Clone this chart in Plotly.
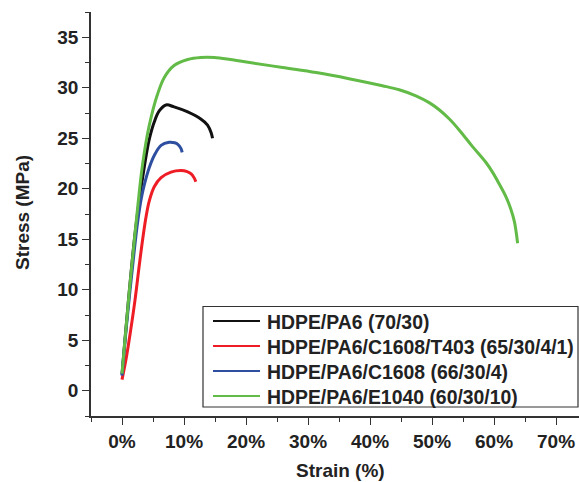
import plotly.graph_objects as go

# Tensile stress-strain curves of HDPE/PA6 blends
strain_70_30 = [0, 0.5, 1.2, 2.0, 2.7, 3.3, 3.9, 4.4, 5.2, 6.0, 7.1, 8.4, 10.6, 12.7, 13.8, 14.4, 14.6]
stress_70_30 = [1.6, 5.2, 10.0, 15.0, 18.5, 21.0, 23.3, 24.9, 26.6, 27.7, 28.3, 28.1, 27.6, 26.9, 26.3, 25.5, 25.0]

strain_c1608_t403 = [0, 0.7, 1.4, 2.1, 2.8, 3.4, 3.9, 4.4, 5.2, 6.3, 7.9, 9.5, 10.5, 11.2, 11.7, 11.9]
stress_c1608_t403 = [1.1, 3.3, 6.0, 9.0, 12.5, 15.3, 17.3, 18.8, 20.2, 21.1, 21.65, 21.8, 21.7, 21.45, 21.0, 20.7]

strain_c1608 = [0, 0.5, 1.3, 2.0, 2.5, 3.1, 3.6, 4.4, 5.2, 6.3, 7.6, 8.5, 9.0, 9.5, 9.7]
stress_c1608 = [1.5, 5.0, 10.0, 14.0, 16.6, 19.0, 20.4, 22.1, 23.3, 24.3, 24.6, 24.55, 24.4, 24.0, 23.6]

strain_e1040 = [0, 0.5, 1.2, 2.0, 2.6, 3.1, 3.6, 4.1, 4.7, 5.7, 6.8, 8.4, 10.6, 12.7, 14.9, 17.5, 20.6,
                25.9, 31.3, 36.6, 42.0, 44.7, 47.4, 49.6, 51.2, 52.8, 54.4, 56.5, 58.7, 59.8, 60.9, 62.0,
                62.7, 63.3, 63.8]
stress_e1040 = [1.7, 5.2, 10.0, 15.0, 18.6, 21.4, 23.6, 25.4, 27.1, 29.3, 31.0, 32.2, 32.8, 33.0, 33.0, 32.8, 32.5,
                32.0, 31.5, 30.9, 30.2, 29.8, 29.2, 28.5, 27.8, 26.9, 25.8, 24.2, 22.6, 21.6, 20.4, 19.1,
                18.0, 16.7, 14.6]

series_names = [
    "HDPE/PA6 (70/30)",
    "HDPE/PA6/C1608/T403 (65/30/4/1)",
    "HDPE/PA6/C1608 (66/30/4)",
    "HDPE/PA6/E1040 (60/30/10)",
]
series_x = [strain_70_30, strain_c1608_t403, strain_c1608, strain_e1040]
series_y = [stress_70_30, stress_c1608_t403, stress_c1608, stress_e1040]
series_colors = ["#111111", "#ee1c24", "#2e4fa0", "#62bb46"]

x_tick_values = [0, 10, 20, 30, 40, 50, 60, 70]
x_tick_labels = [f"{v}%" for v in x_tick_values]

W, H = 579, 482
ML, MR, MT, MB = 91, 0, 12, 66
PW, PH = W - ML - MR, H - MT - MB

FONT = dict(family="Liberation Sans, Arial, sans-serif", size=19, color="#222222", weight="bold")
LEGEND_FONT = dict(FONT, size=19.4)
AXIS_COLOR = "#333333"


def px_x(px):
    return (px - ML) / PW


def px_y(py):
    return (H - MB - py) / PH


fig = go.Figure()
for name, xs, ys, c in zip(series_names, series_x, series_y, series_colors):
    fig.add_trace(go.Scatter(
        x=xs, y=ys, name=name, mode="lines",
        line=dict(color=c, width=3, shape="spline", smoothing=1.0),
        showlegend=False,
    ))

# Boxed legend with long line samples
box_l, box_r, box_t, box_b = 203, 578, 306.5, 407
shapes = [dict(type="rect", xref="paper", yref="paper",
               x0=px_x(box_l), x1=px_x(box_r), y0=px_y(box_b), y1=px_y(box_t),
               line=dict(color=AXIS_COLOR, width=1.2), fillcolor="white", layer="above")]
annotations = []
row_y = [321, 346, 371, 396]
for name, c, ry in zip(series_names, series_colors, row_y):
    shapes.append(dict(type="line", xref="paper", yref="paper",
                       x0=px_x(213), x1=px_x(260), y0=px_y(ry), y1=px_y(ry),
                       line=dict(color=c, width=2.2), layer="above"))
    annotations.append(dict(xref="paper", yref="paper", x=px_x(265), y=px_y(ry + 0.5),
                            text=name, showarrow=False, xanchor="left", yanchor="middle",
                            font=LEGEND_FONT))

# Axis titles
annotations.append(dict(xref="paper", yref="paper", x=px_x(22), y=px_y(213),
                        text="Stress (MPa)", showarrow=False, textangle=-90,
                        xanchor="center", yanchor="middle", font=FONT))
annotations.append(dict(xref="paper", yref="paper", x=px_x(340), y=px_y(470),
                        text="Strain (%)", showarrow=False,
                        xanchor="center", yanchor="middle", font=FONT))

fig.update_layout(
    width=W, height=H,
    margin=dict(l=ML, r=MR, t=MT, b=MB),
    plot_bgcolor="white", paper_bgcolor="white",
    shapes=shapes, annotations=annotations,
    xaxis=dict(
        range=[-5, 73.7], tickmode="array", tickvals=x_tick_values, ticktext=x_tick_labels,
        ticks="outside", ticklen=7, tickwidth=1.3, tickcolor=AXIS_COLOR,
        minor=dict(dtick=5, tick0=0, ticks="outside", ticklen=4, tickwidth=1.3, tickcolor=AXIS_COLOR),
        showline=True, linecolor=AXIS_COLOR, linewidth=1.5,
        showgrid=False, zeroline=False, tickfont=FONT,
    ),
    yaxis=dict(
        range=[-2.5, 37.5], tick0=0, dtick=5,
        ticks="outside", ticklen=7, tickwidth=1.3, tickcolor=AXIS_COLOR,
        minor=dict(dtick=2.5, tick0=0, ticks="outside", ticklen=4, tickwidth=1.3, tickcolor=AXIS_COLOR),
        showline=True, linecolor=AXIS_COLOR, linewidth=1.5,
        showgrid=False, zeroline=False, tickfont=FONT,
    ),
)

fig.write_html("out.html")
